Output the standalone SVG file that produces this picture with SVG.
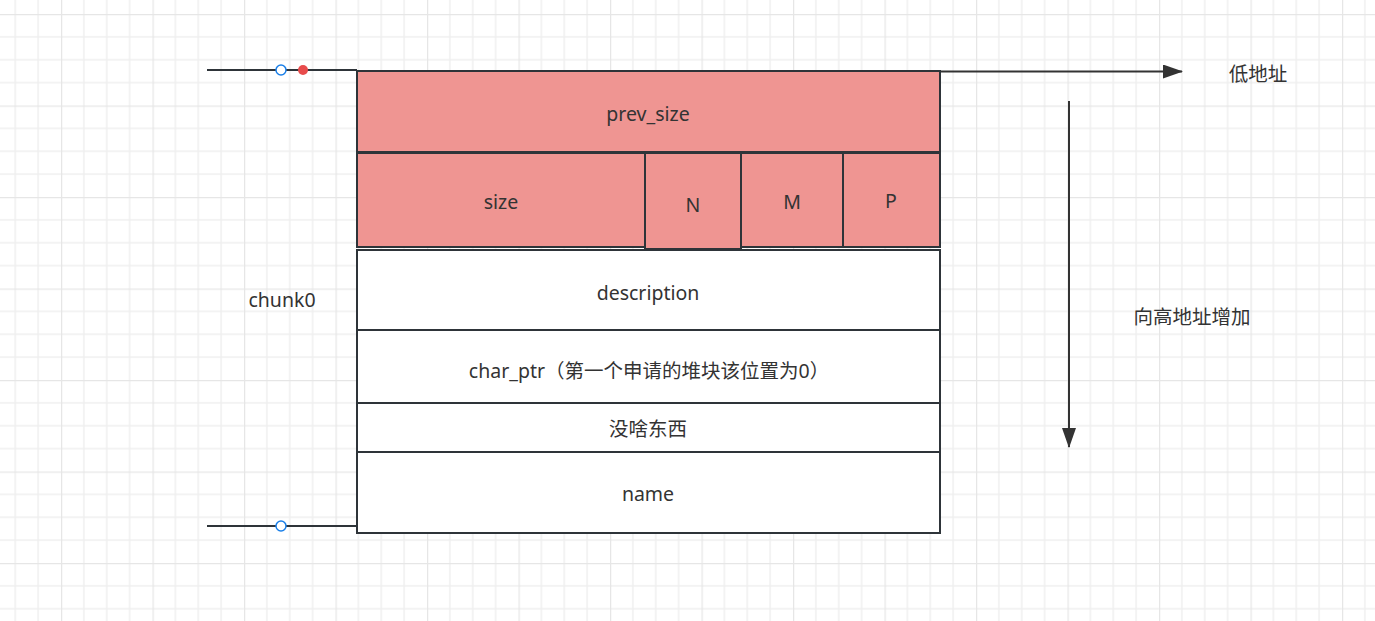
<svg xmlns="http://www.w3.org/2000/svg" width="1375" height="621" viewBox="0 0 1375 621">
<defs>
<pattern id="grid" patternUnits="userSpaceOnUse" x="61" y="14" width="91.5" height="91.5">
<path d="M22.875 0V91.5M45.75 0V91.5M68.625 0V91.5M0 22.875H91.5M0 45.75H91.5M0 68.625H91.5" stroke="#f0f0f0" stroke-width="1.5" fill="none"/>
<path d="M0.5 0V91.5M0 0.5H91.5" stroke="#e6e6e6" stroke-width="1.5" fill="none"/>
</pattern>
<marker id="arr" viewBox="0 0 20 14" refX="19" refY="7" markerWidth="20" markerHeight="14" markerUnits="userSpaceOnUse" orient="auto">
<path d="M0 0L20 7L0 14Z" fill="#333"/>
</marker>
<style>
.cell{stroke:#2e3439;stroke-width:2}
.red{fill:#ef9592}
.white{fill:#ffffff}
text{font-family:"Noto Sans","Noto Sans CJK SC",sans-serif;font-size:19.5px;fill:#333333;text-anchor:middle;dominant-baseline:central}
.line{stroke:#333;stroke-width:2;fill:none}
.wire{stroke:#2e3439;stroke-width:2;fill:none}
</style>
</defs>
<rect width="1375" height="621" fill="#ffffff"/>
<rect width="1375" height="621" fill="url(#grid)"/>

<g id="connectors">
<path class="wire" d="M207 70H357"/>
<path class="wire" d="M207 526H357"/>
<circle cx="281" cy="70" r="5" fill="#ffffff" stroke="#1a7fe8" stroke-width="1.5"/>
<circle cx="303" cy="70" r="5" fill="#e84c4c"/>
<circle cx="281" cy="526" r="5" fill="#ffffff" stroke="#1a7fe8" stroke-width="1.5"/>
<path class="line" d="M940 71.5H1182" marker-end="url(#arr)"/>
<path class="line" d="M1069 101V447" marker-end="url(#arr)"/>
</g>

<g id="prev_size"><rect class="cell red" x="357" y="71" width="583" height="81"/><text x="648" y="113">prev_size</text></g>
<g id="size"><rect class="cell red" x="357" y="153" width="288" height="94"/><text x="501" y="201">size</text></g>
<g id="N"><rect class="cell red" x="645" y="153" width="96" height="96"/><text x="693" y="204">N</text></g>
<g id="M"><rect class="cell red" x="741" y="153" width="102" height="94"/><text x="792" y="201">M</text></g>
<g id="P"><rect class="cell red" x="843" y="153" width="97" height="94"/><text x="891" y="200">P</text></g>
<g id="description"><rect class="cell white" x="357" y="250" width="583" height="80"/><text x="648" y="292">description</text></g>
<g id="char_ptr"><rect class="cell white" x="357" y="330" width="583" height="73"/><text x="649" y="370">char_ptr（第一个申请的堆块该位置为0）</text></g>
<g id="nothing"><rect class="cell white" x="357" y="403" width="583" height="49"/><text x="648" y="428">没啥东西</text></g>
<g id="name"><rect class="cell white" x="357" y="452" width="583" height="81"/><text x="648" y="493">name</text></g>
<g id="chunk0"><text x="282" y="299">chunk0</text></g>
<g id="low_addr"><text x="1258" y="73">低地址</text></g>
<g id="high_addr"><text x="1192" y="316">向高地址增加</text></g>
</svg>
